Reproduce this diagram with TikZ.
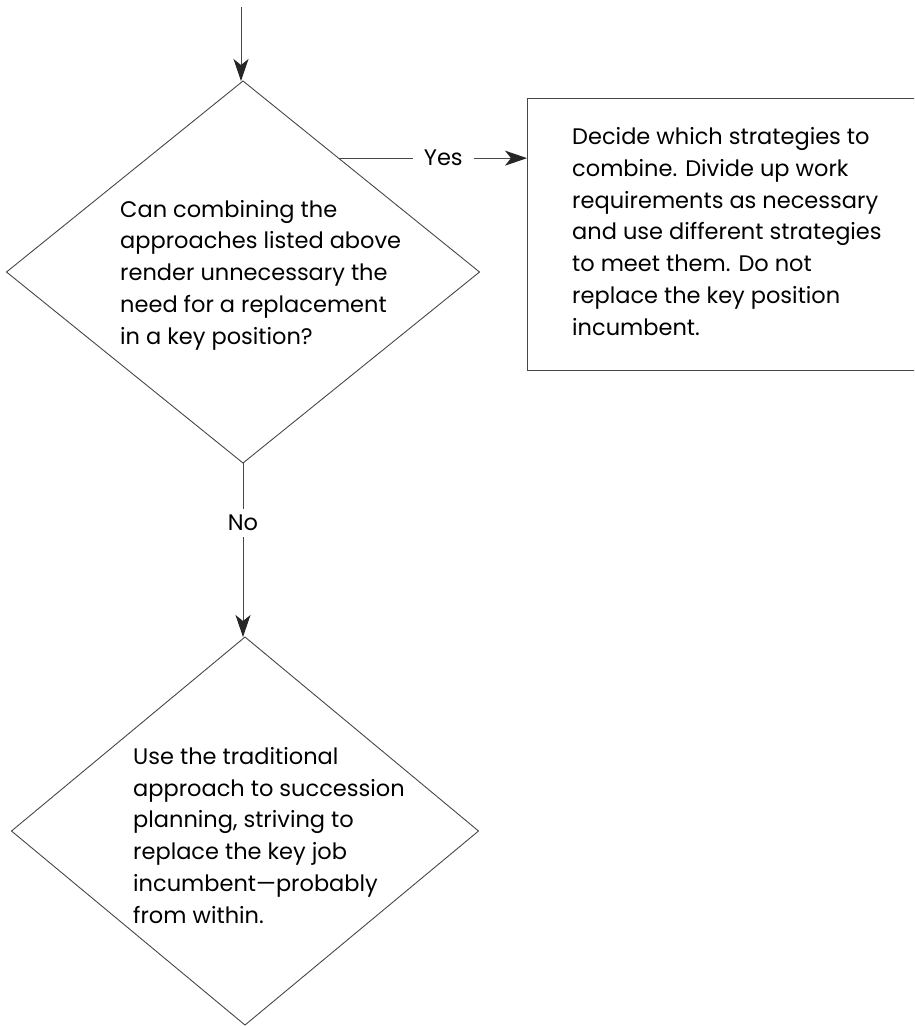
\documentclass[tikz,border=0pt]{standalone}
\usepackage{fontspec}
\setmainfont{Poppins}
\usetikzlibrary{shapes.geometric,arrows.meta}
\begin{document}
\begin{tikzpicture}[x=1pt,y=-1pt,
  every node/.style={font=\fontsize{22.5}{31.7}\selectfont},
  line/.style={draw=black!72, line width=1pt},
  flow/.style={line, -{Stealth[length=22pt,width=15pt,inset=6pt,color=black!85,fill=black!85]}},
  decision/.style={diamond, draw=black!72, line width=0.9pt, inner sep=0pt, outer sep=0pt},
  action/.style={rectangle, draw=black!72, line width=1pt, inner sep=0pt, outer sep=0pt, anchor=north west},
  body/.style={anchor=base west, inner sep=0pt, align=left, text=black},
  tag/.style={fill=white, text=black, inner xsep=11pt, inner ysep=6pt}]
\useasboundingbox (0,0) rectangle (914,1026);
\clip (0,0) rectangle (914,1026);

% shapes
\node[decision, minimum width=473pt, minimum height=382pt] (d1) at (243,272) {};
\node[decision, minimum width=467pt, minimum height=388pt] (d2) at (245,831) {};
\node[action, minimum width=395pt, minimum height=272pt] (box) at (527,98) {};

% texts (anchored at the baseline of their last line)
\node[body] (t1) at (120,344) {Can combining the\\approaches listed above\\render unnecessary the\\need for a replacement\\in a key position?};
\node[body] (t2) at (572,335) {Decide which strategies to\\combine. Divide up work\\requirements as necessary\\and use different strategies\\to meet them. Do not\\replace the key position\\incumbent.};
\node[body] (t3) at (133,923) {Use the traditional\\approach to succession\\planning, striving to\\replace the key job\\incumbent—probably\\from within.};

% connectors
\coordinate (start) at (241,7);
\draw[flow] (start) -- (start |- d1.north);
\draw[flow] (d1.50) -- node[tag, pos=0.556] (yes) {Yes} (d1.50 -| box.west);
\draw[flow] (d1.south) -- node[tag, pos=0.345] (no) {No} (d1.south |- d2.north);
\end{tikzpicture}
\end{document}
